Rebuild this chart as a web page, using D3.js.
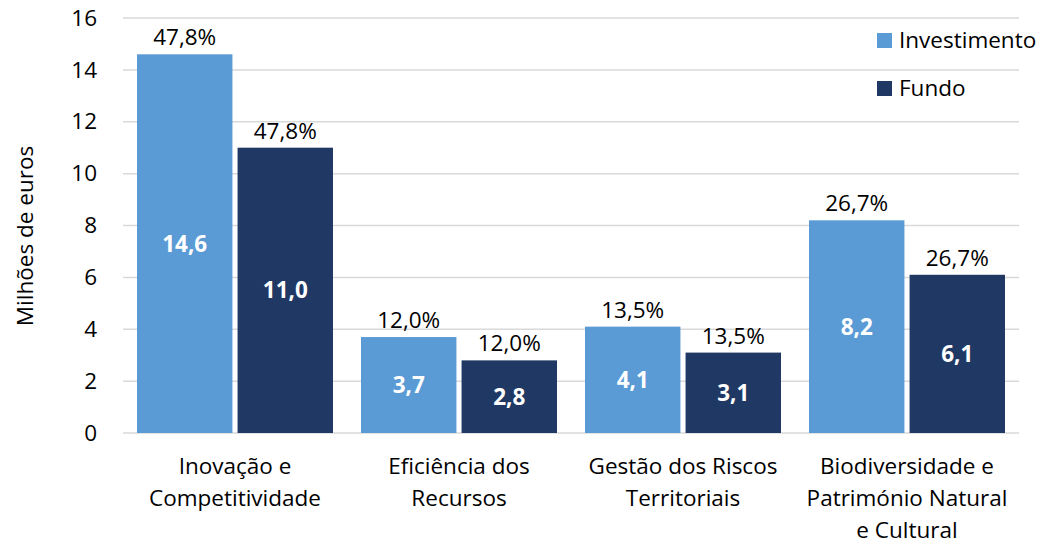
<!DOCTYPE html>
<html>
<head>
<meta charset="utf-8">
<script src="https://cdn.jsdelivr.net/npm/d3@7"></script>
<style>
  body { margin: 0; background: #fff; }
  text { font-family: "Open Sans", sans-serif; }
</style>
</head>
<body>
<div id="chart"></div>
<script>
var categories = [['Inovação e', 'Competitividade'], ['Eficiência dos', 'Recursos'], ['Gestão dos Riscos', 'Territoriais'], ['Biodiversidade e', 'Património Natural', 'e Cultural']];
var investimento = [14.6, 3.7, 4.1, 8.2];
var fundo = [11.0, 2.8, 3.1, 6.1];
var percents = ['47,8%', '12,0%', '13,5%', '26,7%'];
var seriesNames = ['Investimento', 'Fundo'];
var yTicks = [0, 2, 4, 6, 8, 10, 12, 14, 16];

var W = 1044, H = 545,
colors = ['#5B9BD5', '#203864'],
mLeft = 123, mRight = 1019, mTop = 18, mBottom = 433,
fs = 22.5;

var svg = d3.select('#chart').append('svg').attr('width', W).attr('height', H);

var idx = d3.range(categories.length);
var x0 = d3.scaleBand().domain(idx).range([mLeft, mRight]);
var x1 = d3.scaleBand().domain([0, 1]).range([14, x0.bandwidth() - 14]).paddingInner(10 / 196);
var y = d3.scaleLinear().domain([0, 16]).range([mBottom, mTop]);

// gridlines
svg.append('g').selectAll('line').data(yTicks).enter().append('line').
attr('x1', mLeft).attr('x2', mRight).
attr('y1', d => y(d)).attr('y2', d => y(d)).
attr('stroke', '#D9D9D9').attr('stroke-width', 1.5);

// y axis labels
var yAxis = d3.axisLeft(y).tickValues(yTicks).tickSize(0).tickPadding(0).tickFormat(d3.format('d'));
var yg = svg.append('g').attr('transform', 'translate(97,0)').call(yAxis);
yg.select('.domain').remove();
yg.selectAll('text').attr('font-size', fs).attr('fill', '#000').attr('font-family', '"Open Sans", sans-serif');

svg.append('text').
attr('transform', 'translate(33,236) rotate(-90)').
attr('text-anchor', 'middle').
attr('font-size', fs).
text('Milhões de euros');

var data = [];
idx.forEach(function (i) {
  data.push({ c: i, s: 0, v: investimento[i], p: percents[i] });
  data.push({ c: i, s: 1, v: fundo[i], p: percents[i] });
});

var bars = svg.append('g').selectAll('g').data(data).enter().append('g').
attr('transform', d => 'translate(' + (x0(d.c) + x1(d.s)) + ',0)');

bars.append('rect').
attr('x', 0).attr('width', x1.bandwidth()).
attr('y', d => y(d.v)).attr('height', d => y(0) - y(d.v)).
attr('fill', d => colors[d.s]);

bars.append('text').
attr('x', x1.bandwidth() / 2).
attr('y', d => (y(d.v) + y(0)) / 2).
attr('dy', '0.35em').
attr('text-anchor', 'middle').
attr('font-size', fs).attr('font-weight', 'bold').attr('fill', '#fff').
text(d => d3.format('.1f')(d.v).replace('.', ','));

bars.append('text').
attr('x', x1.bandwidth() / 2).
attr('y', d => y(d.v) - 9).
attr('text-anchor', 'middle').
attr('font-size', fs).attr('fill', '#000').
text(d => d.p);

// category labels
var cats = svg.append('g').selectAll('text').data(idx).enter().append('text').
attr('x', d => x0(d) + x0.bandwidth() / 2).
attr('y', 474).
attr('text-anchor', 'middle').
attr('font-size', fs);
cats.selectAll('tspan').data(d => categories[d]).enter().append('tspan').
attr('x', function () { return d3.select(this.parentNode).attr('x'); }).
attr('dy', (d, i) => i === 0 ? 0 : 32).
text(d => d);

// legend
var leg = svg.append('g').selectAll('g').data(seriesNames).enter().append('g').
attr('transform', (d, i) => 'translate(877,' + (33 + i * 48) + ')');
leg.append('rect').attr('width', 15).attr('height', 15).attr('fill', (d, i) => colors[i]);
leg.append('text').attr('x', 22).attr('y', 7.5).attr('dy', '0.35em').attr('font-size', fs).text(d => d);
</script>
</body>
</html>
